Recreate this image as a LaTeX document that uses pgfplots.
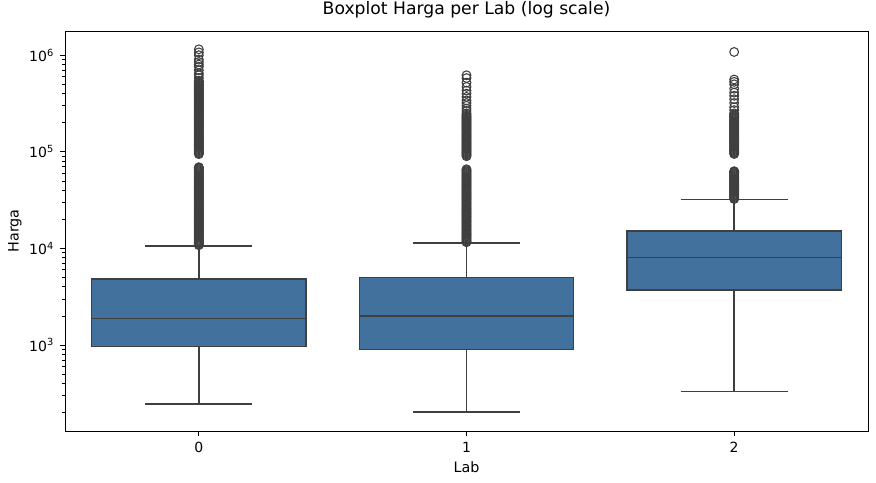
\documentclass[border=0pt]{standalone}
\usepackage{fontspec}
\setmainfont{DejaVu Sans}
\usepackage{pgfplots}
\pgfplotsset{compat=1.18}
\definecolor{boxblue}{RGB}{66,113,158}
\definecolor{edgegray}{RGB}{63,63,63}
\begin{document}
\begin{tikzpicture}
\begin{axis}[
  scale only axis, width=602.25pt, height=300pt,
  ymode=log, xmin=-0.5, xmax=2.5, ymin=129, ymax=1780000,
  xtick={0,1,2}, xticklabels={0,1,2},
  ytick={1000,10000,100000,1000000},
  yticklabels={10\textsuperscript{3},10\textsuperscript{4},10\textsuperscript{5},10\textsuperscript{6}},
  minor ytick={200,300,400,500,600,700,800,900,2000,3000,4000,5000,6000,7000,8000,9000,20000,30000,40000,50000,60000,70000,80000,90000,200000,300000,400000,500000,600000,700000,800000,900000},
  tick align=outside, major tick length=3.75pt, minor tick length=2.2pt,
  tick style={black, line width=0.6pt},
  xtick pos=bottom, ytick pos=left,
  axis line style={black, line width=0.7pt},
  tick label style={font=\fontsize{10.5}{12}\selectfont},
  xticklabel style={anchor=north, yshift=-1pt},
  yticklabel style={anchor=east, xshift=-1pt},
  title={Boxplot Harga per Lab (log scale)},
  title style={font=\fontsize{12.9}{15}\selectfont, at={(axis description cs:0.5,1.0217)}, anchor=base},
  xlabel={Lab}, ylabel={Harga},
  xlabel style={font=\fontsize{10.75}{12}\selectfont, at={(axis description cs:0.5,-0.104)}, anchor=base},
  ylabel style={font=\fontsize{10.75}{12}\selectfont, at={(axis description cs:-0.0623,0.5)}, anchor=center},
  wh/.style={draw=edgegray, line width=1.1pt, mark=none},
  bx/.style={draw=edgegray, fill=boxblue, line width=1.1pt, mark=none},
  outl/.style={only marks, mark=o, mark size=3.3, mark options={draw=edgegray, fill=none, line width=0.8pt}},
  clip=false,
]
% ---- Lab 0: whisker 245, Q1 961, median 1890, Q3 4820, whisker 10650
\addplot[wh] coordinates {(0,961)(0,245)};
\addplot[wh] coordinates {(-0.2,245)(0.2,245)};
\addplot[wh] coordinates {(0,4820)(0,10650)};
\addplot[wh] coordinates {(-0.2,10650)(0.2,10650)};
\addplot[bx] coordinates {(-0.4,961)(0.4,961)(0.4,4820)(-0.4,4820)} -- cycle;
\addplot[wh] coordinates {(-0.4,1890)(0.4,1890)};
% ---- Lab 1: whisker 204, Q1 904, median 2010, Q3 5010, whisker 11350
\addplot[wh] coordinates {(1,904)(1,204)};
\addplot[wh] coordinates {(0.8,204)(1.2,204)};
\addplot[wh] coordinates {(1,5010)(1,11350)};
\addplot[wh] coordinates {(0.8,11350)(1.2,11350)};
\addplot[bx] coordinates {(0.6,904)(1.4,904)(1.4,5010)(0.6,5010)} -- cycle;
\addplot[wh] coordinates {(0.6,2010)(1.4,2010)};
% ---- Lab 2: whisker 329, Q1 3700, median 8080, Q3 15240, whisker 32150
\addplot[wh] coordinates {(2,3700)(2,329)};
\addplot[wh] coordinates {(1.8,329)(2.2,329)};
\addplot[wh] coordinates {(2,15240)(2,32150)};
\addplot[wh] coordinates {(1.8,32150)(2.2,32150)};
\addplot[bx] coordinates {(1.6,3700)(2.4,3700)(2.4,15240)(1.6,15240)} -- cycle;
\addplot[wh] coordinates {(1.6,8080)(2.4,8080)};
% ---- outliers
\addplot[outl] coordinates {
(0,10800)(0,11300)(0,11800)(0,12300)(0,12900)(0,13500)(0,14100)(0,14800)(0,15500)(0,16200)
(0,17000)(0,17800)(0,18600)(0,19500)(0,20400)(0,21400)(0,22400)(0,23400)(0,24500)(0,25700)
(0,26900)(0,28200)(0,29500)(0,30900)(0,32400)(0,33900)(0,35500)(0,37200)(0,39000)(0,40800)
(0,42700)(0,44700)(0,46800)(0,49000)(0,51300)(0,53700)(0,56200)(0,58900)(0,61700)(0,64600)
(0,67500)(0,69300)
(0,11050)(0,11550)(0,12050)(0,12600)(0,13200)(0,13800)(0,14450)(0,15150)(0,15850)(0,16600)
(0,17400)(0,18200)(0,19050)(0,19950)(0,20900)(0,21900)(0,22900)(0,23950)(0,25100)(0,26300)
(0,27550)(0,28850)(0,30200)(0,31650)(0,33150)(0,34700)(0,36350)(0,38100)(0,39900)(0,41750)
(0,43700)(0,45750)(0,47900)(0,50150)(0,52500)(0,54950)(0,57550)(0,60300)(0,63150)(0,66000)(0,68400)
(0,94600)(0,99000)(0,103700)(0,108600)(0,113700)(0,119000)(0,124600)(0,130500)(0,136600)(0,143000)
(0,149800)(0,156800)(0,164200)(0,172000)(0,180000)(0,188500)(0,197400)(0,206700)(0,216400)(0,226600)
(0,237300)(0,248500)(0,260200)(0,272400)(0,285300)(0,298700)(0,312800)(0,327500)(0,343000)(0,359100)
(0,376000)(0,393700)(0,412300)(0,431700)(0,452000)(0,473300)(0,495600)(0,519000)(0,545000)(0,580000)
(0,96800)(0,101300)(0,106100)(0,111100)(0,116300)(0,121800)(0,127500)(0,133500)(0,139800)(0,146400)
(0,153300)(0,160500)(0,168100)(0,176000)(0,184200)(0,192900)(0,202000)(0,211500)(0,221500)(0,231900)
(0,242900)(0,254300)(0,266300)(0,278800)(0,291900)(0,305700)(0,320100)(0,335200)(0,351000)(0,367500)
(0,384800)(0,403000)(0,422000)(0,441800)(0,462600)(0,484400)(0,507300)(0,532000)
(0,620000)(0,650000)(0,700000)(0,760000)(0,800000)(0,850000)(0,900000)(0,1000000)(0,1070000)(0,1150000)
};
\addplot[outl] coordinates {
(1,11600)(1,12100)(1,12700)(1,13300)(1,13900)(1,14500)(1,15200)(1,15900)(1,16700)(1,17400)
(1,18300)(1,19100)(1,20000)(1,21000)(1,21900)(1,23000)(1,24000)(1,25200)(1,26300)(1,27600)
(1,28900)(1,30200)(1,31600)(1,33100)(1,34700)(1,36300)(1,38000)(1,39800)(1,41700)(1,43600)
(1,45700)(1,47800)(1,50100)(1,52400)(1,54900)(1,57500)(1,60200)(1,63000)(1,66000)
(1,11850)(1,12400)(1,13000)(1,13600)(1,14200)(1,14850)(1,15550)(1,16300)(1,17050)(1,17850)
(1,18700)(1,19550)(1,20500)(1,21450)(1,22450)(1,23500)(1,24600)(1,25750)(1,26950)(1,28250)
(1,29550)(1,30900)(1,32350)(1,33900)(1,35500)(1,37150)(1,38900)(1,40750)(1,42650)(1,44650)
(1,46750)(1,48950)(1,51250)(1,53650)(1,56200)(1,58850)(1,61600)(1,64500)
(1,90000)(1,94200)(1,98700)(1,103300)(1,108200)(1,113300)(1,118600)(1,124200)(1,130000)(1,136100)
(1,142500)(1,149200)(1,156200)(1,163600)(1,171300)(1,179300)(1,187800)(1,196600)(1,205800)(1,215500)
(1,225700)(1,236300)(1,250000)
(1,92100)(1,96450)(1,101000)(1,105750)(1,110750)(1,115950)(1,121400)(1,127100)(1,133050)(1,139300)
(1,145850)(1,152700)(1,159900)(1,167450)(1,175300)(1,183550)(1,192200)(1,201200)(1,210650)(1,220600)
(1,231000)(1,243000)
(1,265000)(1,280000)(1,300000)(1,320000)(1,340000)(1,370000)(1,400000)
(1,430000)(1,470000)(1,520000)(1,580000)(1,620000)
};
\addplot[outl] coordinates {
(2,32500)(2,34000)(2,35600)(2,37300)(2,39000)(2,40800)(2,42700)(2,44700)(2,46800)(2,49000)
(2,51300)(2,53700)(2,56200)(2,58900)(2,61700)(2,63000)
(2,33250)(2,34800)(2,36450)(2,38150)(2,39900)(2,41750)(2,43700)(2,45750)(2,47900)(2,50150)
(2,52500)(2,54950)(2,57550)(2,60300)(2,62300)
(2,95000)(2,99400)(2,104000)(2,108900)(2,114000)(2,119400)(2,125000)(2,130900)(2,137000)(2,143500)
(2,150200)(2,157300)(2,164700)(2,172400)(2,180500)(2,189000)(2,197900)(2,207200)(2,217000)(2,227200)
(2,237900)(2,250000)
(2,97200)(2,101700)(2,106450)(2,111450)(2,116700)(2,122200)(2,127950)(2,133950)(2,140250)(2,146850)
(2,153750)(2,161000)(2,168550)(2,176450)(2,184750)(2,193450)(2,202550)(2,212100)(2,222100)(2,232550)
(2,243900)
(2,270000)(2,290000)(2,320000)(2,350000)(2,380000)(2,410000)(2,450000)(2,500000)
(2,530000)(2,560000)(2,1080000)
};
\end{axis}
\pgfresetboundingbox
\path[use as bounding box] ([shift={(-48.75pt,-38.25pt)}]current axis.south west) rectangle ([shift={(6pt,23.25pt)}]current axis.north east);
\end{tikzpicture}
\end{document}
